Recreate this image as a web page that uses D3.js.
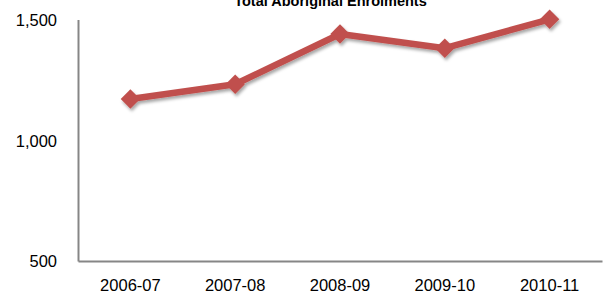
<!DOCTYPE html>
<html>
<head>
<meta charset="utf-8">
<style>
  body { margin: 0; background: #fff; }
  svg { display: block; }
  .axis path.domain { stroke: #868686; stroke-width: 2px; }
  .axis .tick line { display: none; }
  .axis text { font-family: "Liberation Sans", Arial, sans-serif; font-size: 16.5px; fill: #000; }
</style>
</head>
<body>
<svg id="chart" width="603" height="294"></svg>
<script src="https://cdnjs.cloudflare.com/ajax/libs/d3/7.8.5/d3.min.js"></script>
<script>
// values
var years = ["2006-07", "2007-08", "2008-09", "2009-10", "2010-11"];
var enrolments = [1171, 1232, 1440, 1381, 1501];
var yTicks = [500, 1000, 1500];
var title = "Total Aboriginal Enrolments";

var svg = d3.select("#chart");
var plotLeft = 78, plotRight = 602, plotTop = 19.5, plotBottom = 261;

var x = d3.scaleBand().domain(years).range([plotLeft, plotRight]);
var y = d3.scaleLinear().domain([500, 1500]).range([plotBottom, plotTop]);

// soft drop shadow like the office chart
var defs = svg.append("defs");
var f = defs.append("filter").attr("id", "shadow")
  .attr("x", "-20%").attr("y", "-20%").attr("width", "140%").attr("height", "160%");
f.append("feDropShadow")
  .attr("dx", 1.5).attr("dy", 2.5).attr("stdDeviation", 1.6)
  .attr("flood-color", "#000").attr("flood-opacity", 0.35);

// title is clipped by the top edge, as in the original
svg.append("text")
  .attr("x", 330.5).attr("y", 5.5)
  .attr("text-anchor", "middle")
  .style("font-family", "'Liberation Sans', Arial, sans-serif")
  .style("font-weight", "bold")
  .style("font-size", "14.5px")
  .text(title);

var yAxis = d3.axisLeft(y).tickValues(yTicks).tickSize(0).tickPadding(21)
  .tickFormat(d3.format(","));
svg.append("g").attr("class", "axis")
  .attr("transform", "translate(" + plotLeft + ",0)")
  .call(yAxis)
  .selectAll("text").attr("dy", "0.35em");

var xAxis = d3.axisBottom(x).tickSize(0).tickPadding(18);
svg.append("g").attr("class", "axis")
  .attr("transform", "translate(0," + plotBottom + ")")
  .call(xAxis);

var pts = years.map(function(d, i) { return [x(d) + x.bandwidth() / 2, y(enrolments[i])]; });

var g = svg.append("g").attr("filter", "url(#shadow)");
g.append("path")
  .attr("d", d3.line()(pts))
  .attr("fill", "none")
  .attr("stroke", "#C0504D")
  .attr("stroke-width", 6.5)
  .attr("stroke-linejoin", "round");

g.selectAll("path.marker")
  .data(pts).enter()
  .append("path")
    .attr("class", "marker")
    .attr("d", d3.symbol().type(d3.symbolDiamond2).size(240))
    .attr("transform", function(d) { return "translate(" + d[0] + "," + d[1] + ")"; })
    .attr("fill", "#C0504D");
</script>
</body>
</html>
